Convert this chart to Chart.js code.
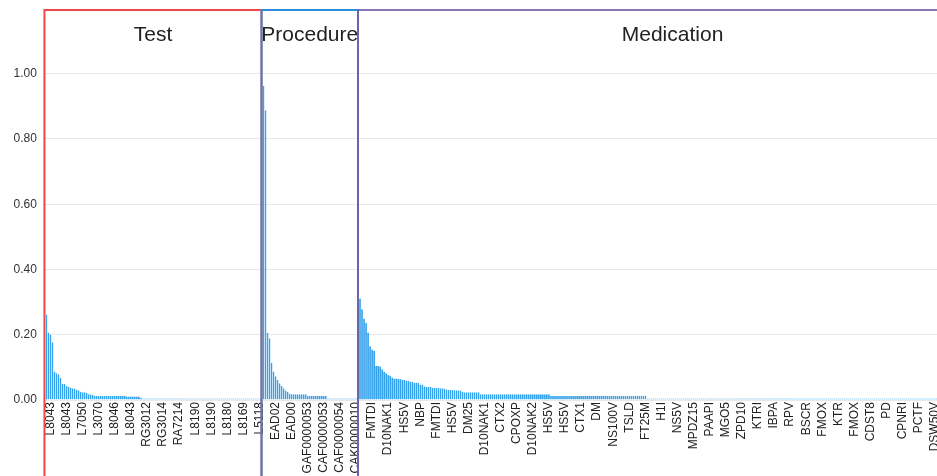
<!DOCTYPE html>
<html>
<head>
<meta charset="utf-8">
<script src="https://cdn.jsdelivr.net/npm/chart.js@4.4.1/dist/chart.umd.min.js"></script>
<style>
  html, body { margin: 0; padding: 0; background: #fff; overflow: hidden; }
  #wrap { position: relative; width: 1000px; height: 477px; }
</style>
</head>
<body>
<div id="wrap"><canvas id="c" width="1000" height="477"></canvas></div>
<script>
// ---- data ----
const groupNames = ["Test", "Procedure", "Medication"];
const groupColors = ["rgba(240,55,55,0.92)", "rgb(45,140,215)", "rgba(115,95,165,0.85)"];

const testValues = [
  0.262, 0.207, 0.201, 0.177, 0.087, 0.082, 0.079, 0.068, 0.050, 0.049,
  0.043, 0.040, 0.038, 0.036, 0.035, 0.032, 0.030, 0.025, 0.024, 0.024,
  0.022, 0.018, 0.017, 0.016,
  0.013, 0.013, 0.012, 0.012, 0.012, 0.012, 0.012, 0.012, 0.012, 0.012,
  0.012, 0.012, 0.012, 0.012, 0.012, 0.012, 0.011, 0.011, 0.011, 0.011,
  0.011, 0.011, 0.011,
  0.006, 0.005, 0.005, 0.005, 0.005, 0.005, 0.005, 0.005, 0.005, 0.005,
  0.005, 0.005, 0.005, 0.005, 0.005, 0.005, 0.005, 0.005, 0.005, 0.005,
  0.005, 0.005, 0.005, 0.005, 0.005, 0.005, 0.005, 0.005, 0.005, 0.005,
  0.005, 0.005, 0.005, 0.005, 0.005, 0.005, 0.005, 0.005, 0.005, 0.005,
  0.005, 0.005, 0.005, 0.005, 0.005, 0.005, 0.005, 0.005, 0.005, 0.005,
  0.005, 0.005, 0.005, 0.005, 0.005, 0.005, 0.005, 0.005, 0.005, 0.005,
  0.005
];

const procedureValues = [
  0.962, 0.888, 0.206, 0.189, 0.114, 0.087, 0.073, 0.062, 0.051, 0.043,
  0.036, 0.029, 0.025, 0.020,
  0.018, 0.018, 0.018, 0.018, 0.018, 0.018, 0.018, 0.018,
  0.012, 0.012, 0.012, 0.012, 0.012, 0.012, 0.012, 0.012, 0.012, 0.012,
  0.005, 0.005, 0.005, 0.005, 0.005, 0.005, 0.005, 0.005, 0.005, 0.005,
  0.005, 0.005, 0.005, 0.005, 0.005, 0.005
];

const medicationValues = [
  0.311, 0.278, 0.250, 0.237, 0.207, 0.165, 0.155, 0.150, 0.104, 0.104,
  0.103, 0.094, 0.087, 0.082, 0.077, 0.075, 0.069, 0.066, 0.066, 0.065,
  0.064, 0.061, 0.061, 0.060, 0.059, 0.057, 0.056, 0.053, 0.053, 0.052,
  0.047, 0.047,
  0.042, 0.041, 0.041, 0.040, 0.038, 0.037, 0.037, 0.037, 0.036, 0.036,
  0.035, 0.032, 0.031, 0.031, 0.031, 0.030, 0.030, 0.030, 0.029, 0.025,
  0.024, 0.024, 0.024, 0.024, 0.024, 0.024, 0.024, 0.024,
  0.018, 0.018, 0.018, 0.018, 0.018, 0.018, 0.018, 0.018, 0.018, 0.018,
  0.018, 0.018, 0.018, 0.018, 0.018, 0.018, 0.018, 0.018, 0.018, 0.018,
  0.018, 0.018, 0.018, 0.018, 0.018, 0.018, 0.018, 0.018, 0.018, 0.018,
  0.018, 0.018, 0.018, 0.018, 0.018,
  0.012, 0.012, 0.012, 0.012, 0.012, 0.012, 0.012, 0.012, 0.012, 0.012,
  0.012, 0.012, 0.012, 0.012, 0.012, 0.012, 0.012, 0.012, 0.012, 0.012,
  0.012, 0.012, 0.012, 0.012, 0.012, 0.012, 0.012, 0.012, 0.012, 0.012,
  0.012, 0.012, 0.012, 0.012, 0.012, 0.012, 0.012, 0.012, 0.012, 0.012,
  0.012, 0.012, 0.012, 0.012, 0.012, 0.012, 0.012, 0.012,
  0.005, 0.005, 0.005, 0.005, 0.005, 0.005, 0.005, 0.005, 0.005, 0.005,
  0.005, 0.005, 0.005, 0.005, 0.005, 0.005, 0.005, 0.005, 0.005, 0.005,
  0.005, 0.005, 0.005, 0.005, 0.005, 0.005, 0.005, 0.005, 0.005, 0.005,
  0.005, 0.005, 0.005, 0.005, 0.005, 0.005, 0.005, 0.005, 0.005, 0.005,
  0.005, 0.005, 0.005, 0.005, 0.005, 0.005, 0.005, 0.005, 0.005, 0.005,
  0.005, 0.005, 0.005, 0.005, 0.005, 0.005, 0.005, 0.005, 0.005, 0.005,
  0.005, 0.005, 0.005, 0.005, 0.005, 0.005, 0.005, 0.005, 0.005, 0.005,
  0.005, 0.005, 0.005, 0.005, 0.005, 0.005, 0.005, 0.005, 0.005, 0.005,
  0.005, 0.005, 0.005, 0.005, 0.005, 0.005, 0.005, 0.005, 0.005, 0.005,
  0.005, 0.005, 0.005, 0.005, 0.005, 0.005, 0.005, 0.005, 0.005, 0.005,
  0.005, 0.005, 0.005, 0.005, 0.005, 0.005, 0.005, 0.005, 0.005, 0.005,
  0.005, 0.005, 0.005, 0.005, 0.005, 0.005, 0.005, 0.005, 0.005, 0.005,
  0.005, 0.005, 0.005, 0.005, 0.005, 0.005, 0.005, 0.005, 0.005, 0.005,
  0.005, 0.005, 0.005, 0.005, 0.005, 0.005, 0.005, 0.005, 0.005, 0.005,
  0.005, 0.005, 0.005, 0.005, 0.005, 0.005, 0.005, 0.005, 0.005, 0.005,
  0.005, 0.005, 0.005, 0.005, 0.005, 0.005, 0.005, 0.005, 0.005, 0.005,
  0.005, 0.005, 0.005, 0.005, 0.005, 0.005, 0.005, 0.005, 0.005, 0.005
];

// item codes readable on the axis (every 8th item, starting at the 3rd)
const shownCodes = [
  "L8043","L8043","L7050","L3070","L8046","L8043","RG3012","RG3014","RA7214","L8190",
  "L8190","L8180","L8169","L5118","EAD02","EAD00","GAF0000053","CAF0000053","CAF0000054","CAK0000010",
  "FMTDI","D10NAK1","HS5V","NBP","FMTDI","HS5V","DM25","D10NAK1","CTX2","CPOXP",
  "D10NAK2","HS5V","HS5V","CTX1","DM","NS100V","TSLD","FT25M","H1I","NS5V",
  "MPDZ15","PAAPI","MGO5","ZPD10","KTRI","IBPA","RPV","BSCR","FMOX","KTR",
  "FMOX","CDST8","PD","CPNRI","PCTF","DSW50V"
];
const codeStart = 2, codeStep = 8;

const yTicks = { min: 0, max: 1.195, step: 0.2 };

// ---- build ----
const groupValues = [testValues, procedureValues, medicationValues];
const values = [].concat(...groupValues);
const categories = values.map((v, i) => {
  const k = (i - codeStart) / codeStep;
  return (Number.isInteger(k) && k >= 0 && k < shownCodes.length) ? shownCodes[k] : "";
});
// each frame runs from the item before the group to the group's last item
const groupRanges = [];
let acc = 0;
groupValues.forEach(g => { groupRanges.push([acc - 1, acc + g.length - 1]); acc += g.length; });

const FONT = '"Liberation Sans", Arial, Helvetica, sans-serif';
Chart.defaults.font.family = FONT;
Chart.defaults.font.size = 12;
Chart.defaults.color = '#333';

const groupBoxes = {
  id: 'groupBoxes',
  afterDatasetsDraw(chart) {
    const { ctx, chartArea, scales: { x } } = chart;
    ctx.save();
    groupNames.forEach((name, i) => {
      const x1 = x.getPixelForValue(groupRanges[i][0]);
      const x2 = x.getPixelForValue(groupRanges[i][1]);
      ctx.strokeStyle = groupColors[i];
      ctx.lineWidth = 2;
      ctx.strokeRect(x1, chartArea.top, x2 - x1, chart.height + 20 - chartArea.top);
      ctx.fillStyle = '#222';
      ctx.font = '21px ' + FONT;
      ctx.textAlign = 'center';
      ctx.textBaseline = 'alphabetic';
      ctx.fillText(name, (x1 + x2) / 2, chartArea.top + 31);
    });
    ctx.restore();
  }
};

new Chart(document.getElementById('c'), {
  type: 'bar',
  data: {
    labels: categories,
    datasets: [{
      data: values,
      backgroundColor: 'rgba(54,162,235,0.35)',
      borderColor: 'rgb(54,162,235)',
      borderWidth: 1,
      barPercentage: 0.9,
      categoryPercentage: 1
    }]
  },
  options: {
    responsive: false,
    animation: false,
    devicePixelRatio: 1,
    layout: { padding: { top: 10, left: 5.1, right: 11.9, bottom: 1.6 } },
    plugins: { legend: { display: false }, tooltip: { enabled: false } },
    scales: {
      x: {
        grid: { display: false, drawTicks: false },
        border: { display: false },
        afterFit: s => { s.paddingLeft = 0; s.paddingRight = 0; },
        ticks: { autoSkip: false, minRotation: 90, maxRotation: 90, padding: 2, color: '#222', font: { size: 12 } }
      },
      y: {
        min: yTicks.min, max: yTicks.max,
        grid: { color: 'rgba(0,0,0,0.09)', drawTicks: false },
        border: { display: false },
        afterFit: s => { s.paddingTop = 0; },
        ticks: { stepSize: yTicks.step, includeBounds: false, padding: 8.5, color: '#333',
          callback: v => Number(v).toFixed(2) }
      }
    }
  },
  plugins: [groupBoxes]
});
</script>
</body>
</html>
